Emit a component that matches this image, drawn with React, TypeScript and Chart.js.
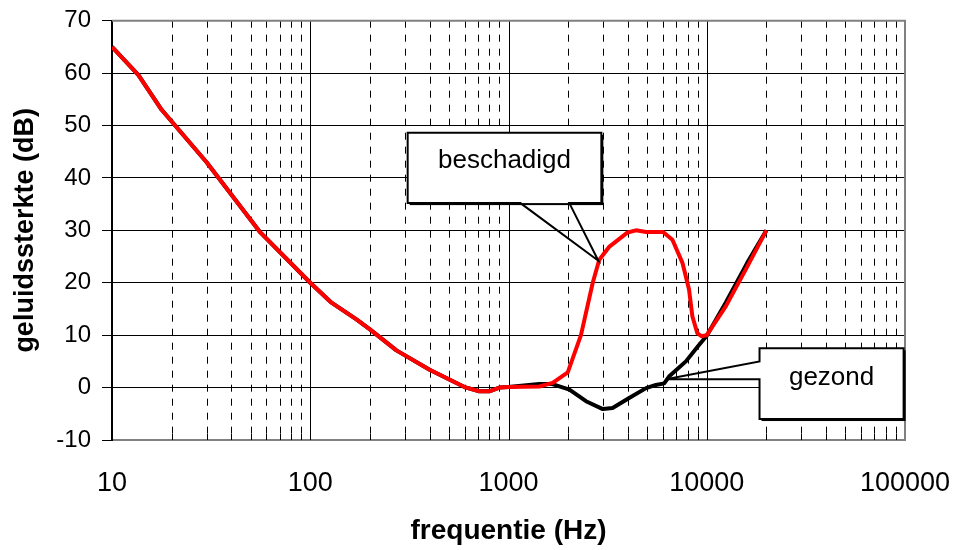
import React, { useEffect, useRef } from "react";
import { Chart, registerables } from "chart.js";

Chart.register(...registerables);

// ---- data ----
// shared part of both curves (10 Hz .. 1000 Hz)
const sharedFreq = [10, 13.6, 17.8, 30, 56, 100, 128, 171, 200, 272, 400, 600, 713, 800, 900, 1000];
const sharedDb = [65, 59.6, 53, 43, 29.6, 20, 16.2, 13, 11.1, 7.1, 3.4, 0.1, -0.7, -0.7, 0, 0.1];

// "beschadigd" (damaged) above 1000 Hz
const beschadigdFreq = [1430, 1670, 1990, 2320, 2660, 2870, 3230, 3990, 4390, 4940, 6020, 6710, 7540, 8140, 8460, 8960, 9400, 10000, 12470, 15720, 20000];
const beschadigdDb = [0.2, 0.9, 2.9, 10, 20, 24.4, 26.9, 29.6, 30, 29.7, 29.7, 28.2, 23.8, 18.7, 13.6, 10.4, 9.8, 10, 15.5, 22.5, 30];

// "gezond" (healthy) above 1000 Hz
const gezondFreq = [1430, 1650, 2030, 2460, 2990, 3350, 4060, 4940, 5540, 6100, 6450, 7850, 9030, 10000, 12500, 16000, 20000];
const gezondDb = [0.7, 0.7, -0.4, -2.6, -4.1, -3.9, -2, -0.1, 0.5, 0.8, 2.1, 5, 7.9, 9.9, 16.3, 23.8, 30];

const xTickValues = [10, 100, 1000, 10000, 100000];
const yMin = -10;
const yMax = 70;
const yStep = 10;
const minorMultipliers = [2, 3, 4, 5, 6, 7, 8, 9];

const xTitle = "frequentie (Hz)";
const yTitle = "geluidssterkte (dB)";

// callout annotations (anchored in data coordinates)
const callouts = [
  {
    text: "beschadigd",
    box: { f1: 310, f2: 2940, db1: 48.6, db2: 35.2 },
    textDb: 41.9,
    outline: [
      { f: 310, db: 48.6 },
      { f: 2940, db: 48.6 },
      { f: 2940, db: 35.2 },
      { f: 2027, db: 35.2 },
      { f: 2840, db: 24.2 },
      { f: 1149, db: 35.2 },
      { f: 310, db: 35.2 },
    ],
  },
  {
    text: "gezond",
    box: { f1: 18460, f2: 98400, db1: 7.5, db2: -6.0 },
    textDb: 0.5,
    outline: [
      { f: 18460, db: 7.5 },
      { f: 98400, db: 7.5 },
      { f: 98400, db: -6.0 },
      { f: 18460, db: -6.0 },
      { f: 18460, db: 1.6 },
      { f: 6220, db: 1.6 },
      { f: 18460, db: 5.0 },
    ],
  },
];

const FONT = "'Liberation Sans', Arial, sans-serif";

const toPoints = (fs: number[], ds: number[]) => fs.map((f, i) => ({ x: f, y: ds[i] }));

const gridPlugin = {
  id: "logGrid",
  beforeDatasetsDraw(chart: any) {
    const { ctx, chartArea } = chart;
    const { left, right, top, bottom } = chartArea;
    const x = chart.scales.x;
    ctx.save();
    ctx.lineWidth = 1;
    ctx.strokeStyle = "#000";
    // minor dashed lines + inside ticks
    for (let d = 10; d < 100000; d *= 10) {
      for (const m of minorMultipliers) {
        const px = Math.round(x.getPixelForValue(d * m)) + 0.5;
        ctx.setLineDash([7, 7]);
        ctx.beginPath();
        ctx.moveTo(px, top);
        ctx.lineTo(px, bottom);
        ctx.stroke();
        ctx.setLineDash([]);
        ctx.beginPath();
        ctx.moveTo(px, bottom);
        ctx.lineTo(px, bottom - 6);
        ctx.stroke();
      }
    }
    ctx.setLineDash([]);
    // major solid lines
    for (const v of xTickValues) {
      if (v === 10 || v === 100000) continue;
      const px = Math.round(x.getPixelForValue(v)) + 0.5;
      ctx.beginPath();
      ctx.moveTo(px, top);
      ctx.lineTo(px, bottom);
      ctx.stroke();
    }
    // gray top and right border
    ctx.strokeStyle = "#808080";
    ctx.lineWidth = 2;
    ctx.beginPath();
    ctx.moveTo(left, top);
    ctx.lineTo(right, top);
    ctx.lineTo(right, bottom);
    ctx.stroke();
    ctx.restore();
  },
  afterDatasetsDraw(chart: any) {
    const { ctx } = chart;
    const x = chart.scales.x;
    const y = chart.scales.y;
    ctx.save();
    for (const c of callouts) {
      const L = x.getPixelForValue(c.box.f1);
      const R = x.getPixelForValue(c.box.f2);
      const T = y.getPixelForValue(c.box.db1);
      const B = y.getPixelForValue(c.box.db2);
      // shadow
      ctx.fillStyle = "#000";
      ctx.fillRect(L + 2, T + 2, R - L, B - T);
      // box fill
      ctx.fillStyle = "#fff";
      ctx.fillRect(L, T, R - L, B - T);
      // outline with pointer
      ctx.strokeStyle = "#000";
      ctx.lineWidth = 2;
      ctx.lineJoin = "miter";
      ctx.beginPath();
      c.outline.forEach((p, i) => {
        const px = x.getPixelForValue(p.f);
        const py = y.getPixelForValue(p.db);
        if (i === 0) ctx.moveTo(px, py);
        else ctx.lineTo(px, py);
      });
      ctx.closePath();
      ctx.stroke();
      // text
      ctx.fillStyle = "#000";
      ctx.font = `26px ${FONT}`;
      ctx.textAlign = "center";
      ctx.textBaseline = "alphabetic";
      ctx.fillText(c.text, (L + R) / 2, y.getPixelForValue(c.textDb));
    }
    ctx.restore();
  },
};

export default function App() {
  const ref = useRef<HTMLCanvasElement | null>(null);

  useEffect(() => {
    if (!ref.current) return;
    const chart = new Chart(ref.current, {
      type: "line",
      data: {
        datasets: [
          {
            label: "beschadigd",
            data: toPoints([...sharedFreq, ...beschadigdFreq], [...sharedDb, ...beschadigdDb]),
            borderColor: "#FF0000",
            borderWidth: 4,
            pointRadius: 0,
            tension: 0,
            fill: false,
            order: 0,
            borderJoinStyle: "round",
          },
          {
            label: "gezond",
            data: toPoints([...sharedFreq, ...gezondFreq], [...sharedDb, ...gezondDb]),
            borderColor: "#000000",
            borderWidth: 4,
            pointRadius: 0,
            tension: 0,
            fill: false,
            order: 1,
            borderJoinStyle: "round",
          },
        ],
      },
      options: {
        responsive: false,
        animation: false,
        layout: { padding: { top: 20.7, right: 52, bottom: 0, left: 0 } },
        plugins: {
          legend: { display: false },
          tooltip: { enabled: false },
        },
        scales: {
          x: {
            type: "logarithmic",
            min: 10,
            max: 100000,
            afterBuildTicks: (scale: any) => {
              scale.ticks = xTickValues.map((v) => ({ value: v, major: true }));
            },
            afterFit: (scale: any) => {
              scale.height = 110;
              scale.paddingLeft = 0;
              scale.paddingRight = 0;
            },
            grid: { display: false },
            border: { display: true, color: "#808080", width: 2 },
            ticks: {
              autoSkip: false,
              maxRotation: 0,
              padding: 19,
              color: "#000",
              font: { family: FONT, size: 27 },
              callback: (v: any) => String(v),
            },
            title: {
              display: true,
              text: xTitle,
              color: "#000",
              font: { family: FONT, size: 28, weight: "bold" },
              padding: { top: 0, bottom: 1.5 },
            },
          },
          y: {
            type: "linear",
            min: yMin,
            max: yMax,
            afterFit: (scale: any) => {
              scale.width = 112;
              scale.paddingTop = 0;
              scale.paddingBottom = 0;
            },
            grid: {
              color: (c: any) =>
                c.tick && (c.tick.value === yMax || c.tick.value === yMin) ? "rgba(0,0,0,0)" : "#000",
              tickColor: "#000",
              tickLength: 10,
              lineWidth: 1,
            },
            border: { display: true, color: "#000", width: 2 },
            ticks: {
              stepSize: yStep,
              padding: 11,
              color: "#000",
              font: { family: FONT, size: 24 },
            },
            title: {
              display: true,
              text: yTitle,
              color: "#000",
              font: { family: FONT, size: 27, weight: "bold" },
              padding: { top: 9.3, bottom: 0 },
            },
          },
        },
      },
      plugins: [gridPlugin],
    } as any);
    return () => chart.destroy();
  }, []);

  return (
    <div style={{ position: "absolute", left: 0, top: 0, width: 957, height: 550, background: "#fff" }}>
      <canvas ref={ref} width={957} height={550} style={{ display: "block" }} />
    </div>
  );
}
